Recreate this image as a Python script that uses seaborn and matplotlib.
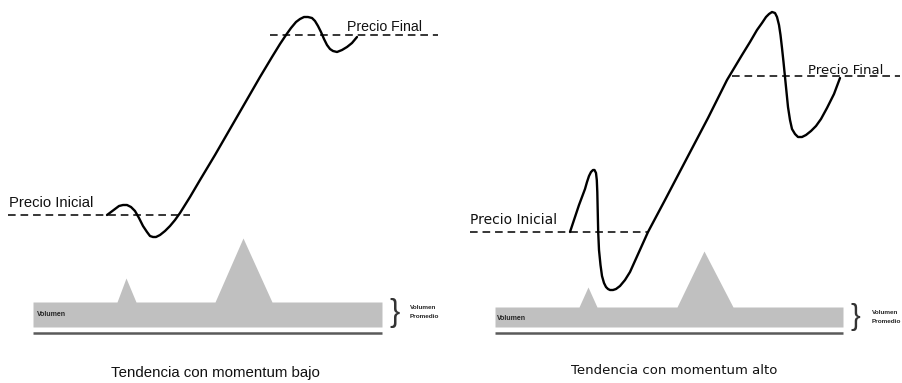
import matplotlib
matplotlib.use("Agg")
import matplotlib.pyplot as plt
import seaborn as sns
import pandas as pd

# ---- data (drawing units: image pixels, y grows downward) ----
left_price_x = [107, 111, 115, 119, 123, 127, 131, 135, 139, 143, 147, 150, 153, 156, 160, 165,
                170, 175, 180, 190, 200, 215, 230, 245, 260, 272, 280, 286, 291, 296, 300, 304,
                308, 312, 315, 318, 321, 324, 327, 330, 333, 337, 342, 347, 352, 357]
left_price_y = [215, 212, 209, 206, 205, 205, 207, 211, 218, 226, 232, 236, 237, 237, 235, 231,
                226, 220, 213, 197, 180, 155, 129, 103, 77, 57, 44, 35, 28, 22, 19, 17,
                17, 18, 21, 26, 32, 39, 45, 49, 51, 52, 50, 47, 43, 37]

right_price_x = [570, 573, 576, 579, 582, 585, 587, 589, 591, 593, 594.5, 596, 596.8, 597.3,
                 597.7, 598.2, 599, 600.5, 602, 604, 606, 608, 610, 613, 616, 620, 625, 630,
                 639, 648, 665, 687, 708, 727, 742, 750, 757, 762, 766, 769, 772, 775, 777,
                 779, 780.5, 782, 783.5, 785, 786.5, 788, 790, 792, 795, 798, 802, 806, 811,
                 816, 821, 827, 834, 840]
right_price_y = [232, 223, 214, 205, 197, 189, 182, 176, 172, 170, 170, 173, 180, 192,
                 210, 232, 250, 265, 276, 283, 287, 289, 290, 290, 289, 286, 280, 272,
                 252, 232, 200, 158, 118, 80, 55, 42, 30, 23, 17, 14, 12, 13, 17,
                 25, 35, 48, 62, 77, 92, 107, 120, 129, 134, 137, 137, 135, 131,
                 126, 119, 108, 94, 78]

left_initial = 215
left_final = 35
right_initial = 232
right_final = 76

left_vol_x = [33, 117, 126, 136, 215, 243, 272, 382]
left_vol_top = [302, 302, 278, 302, 302, 238, 302, 302]
left_vol_bottom = 327
right_vol_x = [495, 579, 588, 597, 677, 704, 733, 843]
right_vol_top = [307, 307, 287, 307, 307, 251, 307, 307]
right_vol_bottom = 327

label_initial = "Precio Inicial"
label_final = "Precio Final"
label_volume = "Volumen"
label_avg = "Volumen\nPromedio"
caption_left = "Tendencia con momentum bajo"
caption_right = "Tendencia con momentum alto"

# ---- figure ----
sns.set_theme(style="white")
plt.rcParams["font.family"] = ["Liberation Sans", "DejaVu Sans"]

fig = plt.figure(figsize=(9.03, 3.83), dpi=100)
ax = fig.add_axes([0, 0, 1, 1])

GRAY = "#c0c0c0"
DARK = "#5a5a5a"

# volume areas
ax.fill_between(left_vol_x, left_vol_top, left_vol_bottom, color=GRAY, linewidth=0)
ax.fill_between(right_vol_x, right_vol_top, right_vol_bottom, color=GRAY, linewidth=0)
ax.hlines(333, left_vol_x[0], left_vol_x[-1], color=DARK, linewidth=1.8)
ax.hlines(333, right_vol_x[0], right_vol_x[-1], color=DARK, linewidth=1.8)

# dashed reference levels
dash = dict(color="black", linewidth=1.1, linestyles=(0, (5, 3.2)))
ax.hlines(left_initial, 8, 190, **dash)
ax.hlines(left_final, 270, 438, **dash)
ax.hlines(right_initial, 470, 648, **dash)
ax.hlines(right_final, 732, 900, **dash)

# price curves
dl = pd.DataFrame({"x": left_price_x, "y": left_price_y})
dr = pd.DataFrame({"x": right_price_x, "y": right_price_y})
for d in (dl, dr):
    sns.lineplot(data=d, x="x", y="y", sort=False, estimator=None, color="black",
                 linewidth=1.7, solid_joinstyle="round", solid_capstyle="round", ax=ax)

ax.set_xlim(0, 903)
ax.set_ylim(383, 0)
ax.axis("off")

# labels
ax.text(9, 203, label_initial, fontsize=10.6, va="center", ha="left", color="#111111")
ax.text(347, 27, label_final, fontsize=10.2, va="center", ha="left", color="#111111")
ax.text(470, 220, label_initial, fontsize=10, va="center", ha="left", color="#111111",
        family=["DejaVu Sans"])
ax.text(808, 71, label_final, fontsize=9.5, va="center", ha="left", color="#111111",
        family=["DejaVu Sans"])

ax.text(37, 314, label_volume, fontsize=5, fontweight="bold", va="center", ha="left")
ax.text(497, 318, label_volume, fontsize=5, fontweight="bold", va="center", ha="left")

ax.text(389, 313, "}", fontsize=22, va="center", ha="left", color="#333333", fontweight="light")
ax.text(851, 317, "}", fontsize=21, va="center", ha="left", color="#333333", fontweight="light")
ax.text(410, 312, label_avg, fontsize=4.6, fontweight="bold", va="center", ha="left",
        linespacing=2.0)
ax.text(872, 317, label_avg, fontsize=4.6, fontweight="bold", va="center", ha="left",
        linespacing=2.0)

ax.text(215, 373, caption_left, fontsize=10.8, va="center", ha="center", color="#111111")
ax.text(674, 370, caption_right, fontsize=9.5, va="center", ha="center", color="#111111",
        family=["DejaVu Sans"])

fig.savefig("out.png", dpi=100, facecolor="white")
